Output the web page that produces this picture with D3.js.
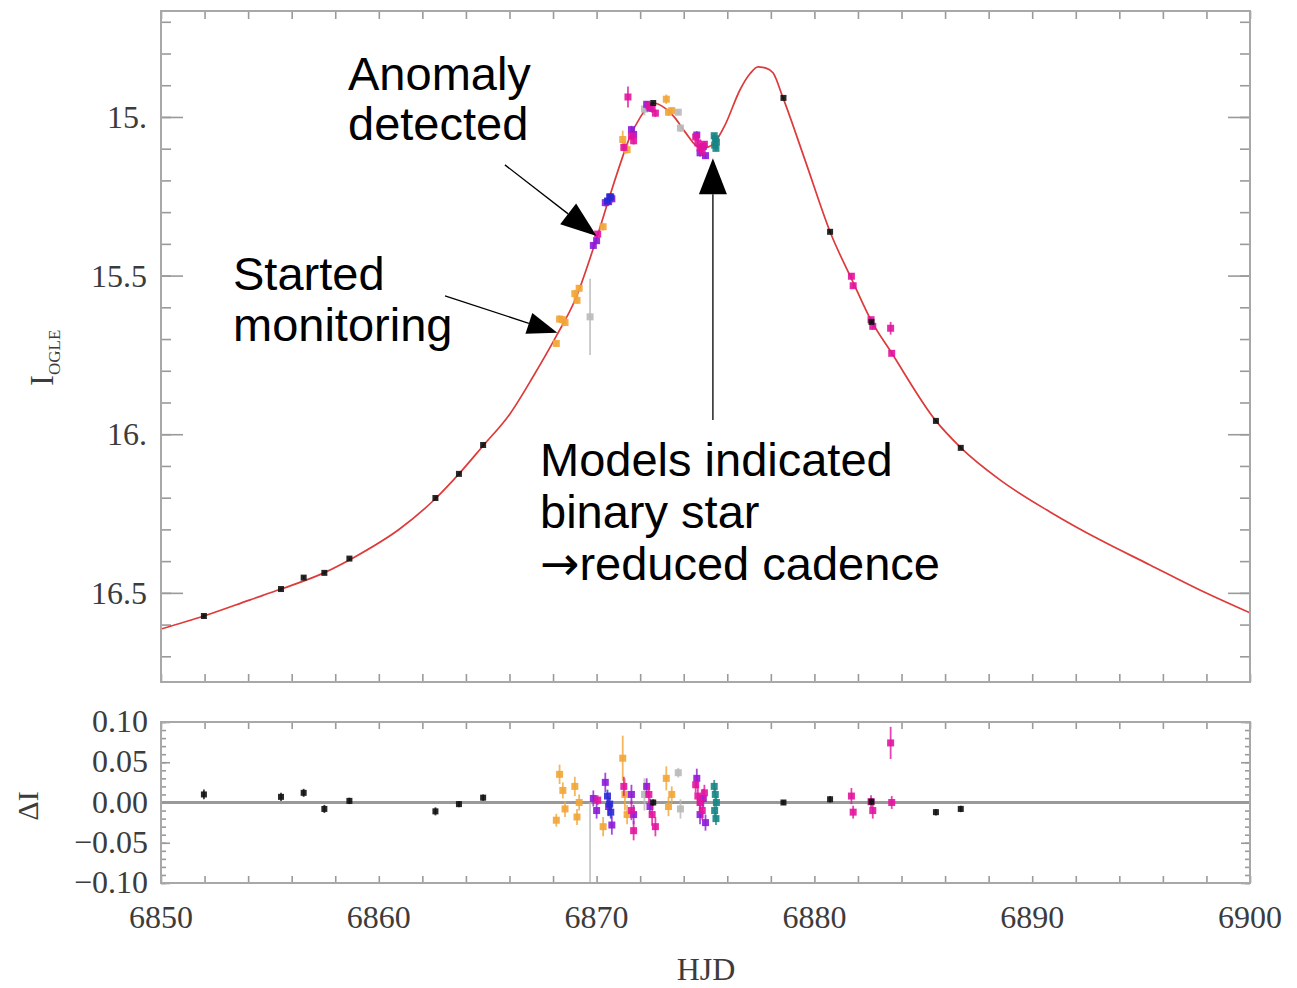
<!DOCTYPE html>
<html><head><meta charset="utf-8">
<script src="https://cdn.jsdelivr.net/npm/d3@7"></script>
<style>body{margin:0;background:#fff}</style>
</head><body><svg id="c" width="1297" height="988"></svg>
<script>
// ---------- DATA ----------
const modelHJD = [6850.00, 6851.97, 6854.09, 6855.51, 6857.48, 6859.00, 6860.97, 6862.63, 6863.68, 6864.78, 6866.02, 6867.08, 6868.18, 6869.01, 6870.02, 6870.62, 6871.07, 6871.53, 6871.99, 6872.59, 6873.14, 6873.60, 6874.06, 6874.75, 6875.11, 6875.44, 6875.90, 6876.58, 6877.04, 6877.41, 6877.78, 6878.10, 6878.56, 6879.57, 6880.76, 6881.73, 6882.64, 6883.52, 6885.58, 6886.73, 6888.52, 6890.82, 6893.11, 6895.41, 6897.70, 6900.00];
const modelMag = [16.614, 16.573, 16.522, 16.488, 16.437, 16.383, 16.298, 16.201, 16.125, 16.037, 15.936, 15.819, 15.687, 15.577, 15.378, 15.246, 15.151, 15.063, 15.003, 14.956, 14.972, 15.003, 15.047, 15.098, 15.095, 15.079, 15.025, 14.915, 14.864, 14.842, 14.846, 14.861, 14.940, 15.136, 15.369, 15.514, 15.646, 15.741, 15.958, 16.043, 16.144, 16.245, 16.333, 16.412, 16.491, 16.563];

const ogleHJD   = [6851.97, 6855.51, 6856.55, 6857.50, 6858.65, 6862.60, 6863.68, 6864.79, 6872.60, 6878.58, 6880.72, 6882.62, 6885.58, 6886.72];
const ogleMag   = [16.573, 16.488, 16.452, 16.437, 16.392, 16.201, 16.125, 16.034, 14.956, 14.940, 15.362, 15.646, 15.958, 16.043];
const ogleErr   = [0.006, 0.005, 0.005, 0.005, 0.004, 0.005, 0.004, 0.004, 0.004, 0.003, 0.004, 0.004, 0.004, 0.004];
const ogleRes   = [0.010, 0.007, 0.012, -0.008, 0.002, -0.011, -0.002, 0.006, 0.000, 0.000, 0.004, 0.001, -0.012, -0.008];

const orangeHJD = [6868.15, 6868.30, 6868.45, 6868.55, 6869.00, 6869.10, 6869.20, 6870.30, 6871.20, 6871.30, 6871.40, 6873.20, 6873.30, 6873.45];
const orangeMag = [15.714, 15.637, 15.639, 15.648, 15.557, 15.578, 15.540, 15.346, 15.071, 15.097, 15.103, 14.944, 14.985, 14.980];
const orangeErr = [0.008, 0.012, 0.010, 0.010, 0.012, 0.010, 0.010, 0.012, 0.028, 0.020, 0.012, 0.015, 0.012, 0.010];
const orangeRes = [-0.022, 0.035, 0.015, -0.008, 0.020, -0.018, 0.000, -0.030, 0.055, 0.010, -0.015, 0.030, -0.005, 0.010];

const magentaHJD = [6870.05, 6871.25, 6871.44, 6871.60, 6871.70, 6872.40, 6872.55, 6872.70, 6874.55, 6874.65, 6874.75, 6874.85, 6874.95, 6881.70, 6881.78, 6882.60, 6882.68, 6883.50, 6883.55];
const magentaMag = [15.369, 15.096, 14.937, 15.060, 15.075, 14.965, 14.973, 14.988, 15.063, 15.082, 15.098, 15.108, 15.086, 15.502, 15.532, 15.639, 15.660, 15.666, 15.745];
const magentaErr = [0.006, 0.012, 0.033, 0.012, 0.012, 0.012, 0.014, 0.012, 0.010, 0.012, 0.010, 0.012, 0.010, 0.010, 0.008, 0.008, 0.010, 0.020, 0.008];
const magentaRes = [0.003, 0.020, -0.140, -0.010, -0.035, 0.010, -0.015, -0.030, 0.022, 0.008, 0.000, -0.010, 0.012, 0.008, -0.012, 0.001, -0.010, 0.074, 0.000];

const purpleHJD = [6869.85, 6870.00, 6870.40, 6870.55, 6870.70, 6871.60, 6871.70, 6872.30, 6872.45, 6874.60, 6874.75, 6874.90, 6875.00];
const purpleMag = [15.405, 15.390, 15.270, 15.267, 15.258, 15.040, 15.055, 14.960, 14.972, 15.057, 15.113, 15.093, 15.122];
const purpleErr = [0.010, 0.010, 0.012, 0.012, 0.012, 0.012, 0.012, 0.010, 0.010, 0.012, 0.012, 0.012, 0.010];
const purpleRes = [0.005, -0.010, 0.025, -0.005, -0.028, 0.010, -0.015, 0.020, -0.005, 0.030, -0.015, 0.005, -0.025];

const blueHJD = [6870.50, 6870.60, 6870.65];
const blueMag = [15.265, 15.252, 15.252];
const blueErr = [0.008, 0.008, 0.008];
const blueRes = [0.008, -0.002, -0.012];

const grayHJD = [6869.70, 6872.20, 6873.75, 6873.85];
const grayMag = [15.630, 14.975, 14.985, 15.035];
const grayErr = [0.120, 0.020, 0.006, 0.012];
const grayRes = [-0.120, 0.010, 0.037, -0.008];

const tealHJD = [6875.40, 6875.45, 6875.50, 6875.42, 6875.48];
const tealMag = [15.059, 15.069, 15.079, 15.089, 15.099];
const tealErr = [0.008, 0.008, 0.008, 0.008, 0.008];
const tealRes = [0.020, 0.010, 0.000, -0.010, -0.020];

const xTickLabels = ["6850", "6860", "6870", "6880", "6890", "6900"];
const xTickValues = [6850, 6860, 6870, 6880, 6890, 6900];
const yTickLabels = ["15.", "15.5", "16.", "16.5"];
const yTickValues = [15.0, 15.5, 16.0, 16.5];
const rTickLabels = ["0.10", "0.05", "0.00", "\u22120.05", "\u22120.10"];
const rTickValues = [0.10, 0.05, 0.00, -0.05, -0.10];

// ---------- BUILD ----------
const datasets = [
  {name:"orange", color:"#f2a536", hjd:orangeHJD, mag:orangeMag, err:orangeErr, res:orangeRes, s:7},
  {name:"gray", color:"#b9b9b9", hjd:grayHJD, mag:grayMag, err:grayErr, res:grayRes, s:7},
  {name:"purple", color:"#8c1bd8", hjd:purpleHJD, mag:purpleMag, err:purpleErr, res:purpleRes, s:7},
  {name:"blue", color:"#2a2ad4", hjd:blueHJD, mag:blueMag, err:blueErr, res:blueRes, s:7},
  {name:"magenta", color:"#e2149f", hjd:magentaHJD, mag:magentaMag, err:magentaErr, res:magentaRes, s:7},
  {name:"teal", color:"#178585", hjd:tealHJD, mag:tealMag, err:tealErr, res:tealRes, s:7},
  {name:"ogle", color:"#111111", hjd:ogleHJD, mag:ogleMag, err:ogleErr, res:ogleRes, s:6}
].map(d => ({...d, pts: d.hjd.map((t,i)=>({t, m:d.mag[i], e:d.err[i], r:d.res[i]}))}));

const X0=161, X1=1250, MY0=11, MY1=682, RY0=722, RY1=883;
const x = d3.scaleLinear().domain([6850,6900]).range([X0,X1]);
const y = d3.scaleLinear().domain([14.666,16.781]).range([MY0,MY1]);
const yr = d3.scaleLinear().domain([-0.1,0.1]).range([RY1,RY0]);

const svg = d3.select("#c");
svg.append("rect").attr("width",1297).attr("height",988).attr("fill","#fff");
const defs = svg.append("defs");
defs.append("clipPath").attr("id","clipM").append("rect").attr("x",X0).attr("y",MY0).attr("width",X1-X0).attr("height",MY1-MY0);
defs.append("clipPath").attr("id","clipR").append("rect").attr("x",X0).attr("y",RY0).attr("width",X1-X0).attr("height",RY1-RY0);

const axisCol = "#9a9a9a";
function styleAxis(g){ g.select(".domain").remove(); g.selectAll("line").attr("stroke",axisCol).attr("stroke-width",1.6); g.selectAll("text").remove(); }

// main panel ticks
const xMinor = d3.range(6850, 6901, 2);
svg.append("g").attr("transform",`translate(0,${MY1})`).call(d3.axisBottom(x).tickValues(xMinor).tickSize(-8)).call(styleAxis);
svg.append("g").attr("transform",`translate(0,${MY0})`).call(d3.axisTop(x).tickValues(xMinor).tickSize(-8)).call(styleAxis);
const yMinor = d3.range(14.7, 16.79, 0.1);
svg.append("g").attr("transform",`translate(${X0},0)`).call(d3.axisLeft(y).tickValues(yMinor).tickSize(-10)).call(styleAxis);
svg.append("g").attr("transform",`translate(${X1},0)`).call(d3.axisRight(y).tickValues(yMinor).tickSize(-10)).call(styleAxis);
svg.append("g").attr("transform",`translate(${X0},0)`).call(d3.axisLeft(y).tickValues(yTickValues).tickSize(-22)).call(styleAxis);
svg.append("g").attr("transform",`translate(${X1},0)`).call(d3.axisRight(y).tickValues(yTickValues).tickSize(-22)).call(styleAxis);

// residual panel ticks
svg.append("g").attr("transform",`translate(0,${RY1})`).call(d3.axisBottom(x).tickValues(xMinor).tickSize(-7)).call(styleAxis);
svg.append("g").attr("transform",`translate(0,${RY0})`).call(d3.axisTop(x).tickValues(xMinor).tickSize(-7)).call(styleAxis);
const rMinor = d3.range(-0.1, 0.1001, 0.01);
svg.append("g").attr("transform",`translate(${X0},0)`).call(d3.axisLeft(yr).tickValues(rMinor).tickSize(-5)).call(styleAxis);
svg.append("g").attr("transform",`translate(${X1},0)`).call(d3.axisRight(yr).tickValues(rMinor).tickSize(-5)).call(styleAxis);
svg.append("g").attr("transform",`translate(${X0},0)`).call(d3.axisLeft(yr).tickValues(rTickValues).tickSize(-9)).call(styleAxis);
svg.append("g").attr("transform",`translate(${X1},0)`).call(d3.axisRight(yr).tickValues(rTickValues).tickSize(-9)).call(styleAxis);

// zero line
svg.append("line").attr("x1",X0).attr("x2",X1).attr("y1",yr(0)).attr("y2",yr(0)).attr("stroke","#999").attr("stroke-width",3.2);

// model curve
const gM = svg.append("g").attr("clip-path","url(#clipM)");
gM.append("path").datum(modelHJD.map((t,i)=>[t,modelMag[i]]))
  .attr("d", d3.line().x(d=>x(d[0])).y(d=>y(d[1])).curve(d3.curveMonotoneX))
  .attr("fill","none").attr("stroke","#dd3a3a").attr("stroke-width",1.7);

const gR = svg.append("g").attr("clip-path","url(#clipR)");
datasets.forEach(ds=>{
  const S = ds.s;
  const a = gM.append("g");
  a.selectAll("line").data(ds.pts).join("line")
    .attr("x1",d=>x(d.t)).attr("x2",d=>x(d.t)).attr("y1",d=>y(d.m-d.e)).attr("y2",d=>y(d.m+d.e))
    .attr("stroke",ds.color).attr("stroke-width",1.8).attr("stroke-opacity",0.8);
  a.selectAll("rect").data(ds.pts).join("rect")
    .attr("x",d=>x(d.t)-S/2).attr("y",d=>y(d.m)-S/2).attr("width",S).attr("height",S)
    .attr("fill",ds.color).attr("fill-opacity",0.9);
  const b = gR.append("g");
  b.selectAll("line").data(ds.pts).join("line")
    .attr("x1",d=>x(d.t)).attr("x2",d=>x(d.t)).attr("y1",d=>yr(d.r-d.e)).attr("y2",d=>yr(d.r+d.e))
    .attr("stroke",ds.color).attr("stroke-width",1.8).attr("stroke-opacity",0.8);
  b.selectAll("rect").data(ds.pts).join("rect")
    .attr("x",d=>x(d.t)-S/2).attr("y",d=>yr(d.r)-S/2).attr("width",S).attr("height",S)
    .attr("fill",ds.color).attr("fill-opacity",0.9);
});

// frames
svg.append("rect").attr("x",X0).attr("y",MY0).attr("width",X1-X0).attr("height",MY1-MY0).attr("fill","none").attr("stroke","#a8a8a8").attr("stroke-width",2);
svg.append("rect").attr("x",X0).attr("y",RY0).attr("width",X1-X0).attr("height",RY1-RY0).attr("fill","none").attr("stroke","#a8a8a8").attr("stroke-width",2);

// tick labels
const serif = "'Liberation Serif','Times New Roman',serif";
const labCol = "#3c3c3c";
svg.append("g").selectAll("text").data(yTickValues).join("text")
  .attr("x",147).attr("y",d=>y(d)+11).attr("text-anchor","end")
  .attr("font-family",serif).attr("font-size",32).attr("fill",labCol)
  .text((d,i)=>yTickLabels[i]);
svg.append("g").selectAll("text").data(rTickValues).join("text")
  .attr("x",148).attr("y",d=>yr(d)+10).attr("text-anchor","end")
  .attr("font-family",serif).attr("font-size",32).attr("fill",labCol)
  .text((d,i)=>rTickLabels[i]);
svg.append("g").selectAll("text").data(xTickValues).join("text")
  .attr("x",d=>x(d)).attr("y",928).attr("text-anchor","middle")
  .attr("font-family",serif).attr("font-size",32).attr("fill",labCol)
  .text((d,i)=>xTickLabels[i]);

// axis titles
svg.append("text").attr("x",706).attr("y",980).attr("text-anchor","middle")
  .attr("font-family",serif).attr("font-size",32).attr("fill",labCol).text("HJD");
const yl = svg.append("text").attr("transform","translate(53,386) rotate(-90)")
  .attr("font-family",serif).attr("fill",labCol);
yl.append("tspan").attr("font-size",33).text("I");
yl.append("tspan").attr("font-size",17).attr("dy",7).text("OGLE");
svg.append("text").attr("transform","translate(38,806) rotate(-90)").attr("text-anchor","middle")
  .attr("font-family",serif).attr("font-size",30).attr("fill",labCol).text("\u0394I");

// annotations
const sans = "'Liberation Sans',Arial,sans-serif";
function textBlock(lines, x0, y0, lh){
  const t = svg.append("text").attr("font-family",sans).attr("font-size",47).attr("fill","#000");
  lines.forEach((s,i)=>{
    const ts = t.append("tspan").attr("x",x0).attr("y",y0+i*lh);
    if (s.startsWith("\u2192")) {
      ts.append("tspan").attr("font-family","'DejaVu Sans',sans-serif").attr("font-size",47).text("\u2192");
      t.append("tspan").text(s.slice(1));
    } else ts.text(s);
  });
}
textBlock(["Anomaly","detected"], 348, 90, 50);
textBlock(["Started","monitoring"], 233, 290, 51);
textBlock(["Models indicated","binary star","\u2192reduced cadence"], 540, 476, 52);

function arrow(tail, tip, L, hw){
  const tx=x(tail[0]), ty=y(tail[1]), px=x(tip[0]), py=y(tip[1]);
  const dx=px-tx, dy=py-ty, len=Math.hypot(dx,dy), ux=dx/len, uy=dy/len;
  const bx=px-ux*L, by=py-uy*L, nx=-uy, ny=ux;
  svg.append("line").attr("x1",tx).attr("y1",ty).attr("x2",bx).attr("y2",by).attr("stroke","#000").attr("stroke-width",1.3);
  svg.append("path").attr("d",`M${px},${py}L${bx+nx*hw},${by+ny*hw}L${bx-nx*hw},${by-ny*hw}Z`).attr("fill","#000");
}
arrow([6865.79,15.151],[6870.0,15.375],36,13);
arrow([6863.04,15.564],[6868.2,15.68],30,11);
arrow([6875.34,15.955],[6875.34,15.13],36,14);
</script></body></html>
